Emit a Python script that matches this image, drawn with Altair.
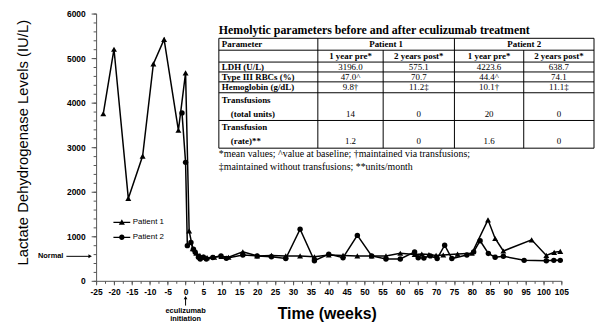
import altair as alt
import pandas as pd

# ---------------- data ----------------
series_names = ["Patient 1", "Patient 2"]

p1_weeks = [-23, -20, -16, -12, -9, -6, -2, 0, 1, 2, 3, 4, 5, 6, 8, 10, 12, 16, 20, 24, 28,
            32, 36, 40, 44, 48, 52, 56, 60, 64, 66, 68, 70, 72, 76, 80, 84.5, 86.5, 88.8,
            96.7, 100.8, 103, 104.7]
p1_ldh = [3750, 5200, 1850, 2800, 4870, 5420, 3380, 4670, 1120, 720, 620, 570, 540, 520,
          530, 550, 530, 650, 560, 570, 560, 560, 540, 580, 570, 560, 560, 560, 620, 590,
          600, 590, 570, 580, 600, 620, 1370, 950, 670, 920, 570, 640, 660]

p2_weeks = [-1, 0, 0.5, 1.5, 2.2, 2.7, 3.6, 4.1, 5, 5.8, 7.6, 9.9, 11.4, 16, 20, 24, 28,
            32, 36, 40, 44, 48, 52, 56, 60, 64, 65, 66.6, 68.4, 70.3, 72.4, 74.4, 78.6,
            80.5, 82.3, 84.6, 86.5, 88.8, 94.6, 100.8, 102.9, 104.7]
p2_ldh = [3770, 2660, 790, 860, 710, 640, 530, 490, 530, 490, 525, 560, 505, 580, 560, 540,
          500, 1160, 450, 600, 520, 1020, 560, 490, 490, 650, 520, 510, 560, 500, 800, 500,
          580, 650, 900, 615, 530, 550, 460, 450, 460, 460]

normal_ldh = 550
x_major = list(range(-25, 106, 5))
x_minor = [-25 + 2.5 * i for i in range(53)]
y_major = list(range(0, 6001, 1000))
y_minor = list(range(0, 6001, 200))

table_title = "Hemolytic parameters before and after eculizumab treatment"
col_headers = ["Parameter", "Patient 1", "Patient 2"]
sub_headers = ["1 year pre*", "2 years post*", "1 year pre*", "2 years post*"]
row_labels = [["LDH (U/L)"], ["Type III RBCs (%)"], ["Hemoglobin (g/dL)"],
              ["Transfusions", "(total units)"], ["Transfusion", "(rate)**"]]
p1_pre = ["3196.0", "47.0^", "9.8\u2020", "14", "1.2"]
p1_post = ["575.1", "70.7", "11.2\u2021", "0", "0"]
p2_pre = ["4223.6", "44.4^", "10.1\u2020", "20", "1.6"]
p2_post = ["638.7", "74.1", "11.1\u2021", "0", "0"]
footnotes = ["*mean values; ^value at baseline; \u2020maintained via transfusions;",
             "\u2021maintained without transfusions; **units/month"]

# ---------------- layout / style ----------------
SANS = "Liberation Sans"
SERIF = "Liberation Serif"
W, H = 470, 270
AX = "#555"

df = pd.DataFrame({
    "week": p1_weeks + p2_weeks,
    "ldh": p1_ldh + p2_ldh,
    "series": [series_names[0]] * len(p1_weeks) + [series_names[1]] * len(p2_weeks),
})

xs = alt.Scale(domain=[-25, 105], nice=False, zero=False)
ys = alt.Scale(domain=[0, 6000], nice=False)

x_main = alt.X("week:Q", scale=xs,
               axis=alt.Axis(values=x_major, labelExpr="'' + datum.value",
                             tickSize=4, labelOverlap=False, labelFlush=False, grid=False,
                             labelFont=SANS, labelFontSize=8.5, labelFontWeight="bold",
                             labelColor="black", labelPadding=3,
                             domainColor=AX, tickColor=AX,
                             title="Time (weeks)", titleFont=SANS, titleFontSize=16,
                             titleFontWeight="bold", titleColor="black",
                             titleX=233, titleY=25, titleBaseline="top"))
y_main = alt.Y("ldh:Q", scale=ys,
               axis=alt.Axis(values=y_major, labelExpr="'' + datum.value",
                             tickSize=5, labelOverlap=False, labelFlush=False, grid=False,
                             labelFont=SANS, labelFontSize=8.5, labelFontWeight="bold",
                             labelColor="black", labelPadding=6,
                             domainColor=AX, tickColor=AX,
                             title="Lactate Dehydrogenase Levels (IU/L)", titleFont=SANS,
                             titleFontSize=15, titleFontWeight="normal", titleColor="black",
                             titleX=-66, titleY=130))
x_min = alt.X("week:Q", scale=xs,
              axis=alt.Axis(values=x_minor, labels=False, domain=False, grid=False,
                            tickSize=2.5, tickColor=AX, title=None, orient="bottom"))
y_min = alt.Y("ldh:Q", scale=ys,
              axis=alt.Axis(values=y_minor, labels=False, domain=False, grid=False,
                            tickSize=3, tickColor=AX, title=None, orient="left"))
x_plain = alt.X("week:Q", scale=xs, axis=None)
y_plain = alt.Y("ldh:Q", scale=ys, axis=None)

base = alt.Chart(df)
lines = base.mark_line(color="black", strokeWidth=1.5).encode(x=x_main, y=y_main, detail="series:N")
minor_axes = base.mark_point(opacity=0).encode(x=x_min, y=y_min)
p1_pts = base.transform_filter(alt.datum.series == series_names[0]).mark_point(
    shape="triangle-up", filled=True, color="black", opacity=1, size=36).encode(x=x_plain, y=y_plain)
p2_pts = base.transform_filter(alt.datum.series == series_names[1]).mark_point(
    shape="circle", filled=True, color="black", opacity=1, size=30).encode(x=x_plain, y=y_plain)

# legend symbols: a filled thin bar (the line) plus the marker
tri_path = "M-1.7,-0.13H1.7V0.13H-1.7ZM0,-0.62L0.62,0.45L-0.62,0.45Z"
circ_path = "M-1.7,-0.13H1.7V0.13H-1.7ZM0.55,0A0.55,0.55,0,1,1,-0.55,0A0.55,0.55,0,1,1,0.55,0Z"
legend_layer = base.mark_point(filled=True, color="black", opacity=0, size=100).encode(
    x=x_plain, y=y_plain,
    shape=alt.Shape("series:N", scale=alt.Scale(domain=series_names, range=[tri_path, circ_path]),
                    legend=alt.Legend(title=None, orient="none", legendX=20, legendY=205,
                                      symbolSize=100, symbolFillColor="black",
                                      symbolOpacity=1, labelFont=SANS, labelFontSize=8,
                                      labelColor="black", labelOffset=5, rowPadding=3,
                                      padding=0)))

normal_df = pd.DataFrame({"ldh": [normal_ldh], "label": ["Normal"]})
nbase = alt.Chart(normal_df)
normal_text = nbase.mark_text(align="right", baseline="middle", font=SANS, fontWeight="bold",
                              fontSize=7.5, color="black").encode(
    x=alt.value(-33), y=y_plain, text="label:N")
normal_rule = nbase.mark_rule(color="black", strokeWidth=1).encode(
    x=alt.value(-30), x2=alt.value(-7), y=y_plain)
normal_head = nbase.mark_point(shape="triangle-right", filled=True, color="black", opacity=1,
                               size=16).encode(x=alt.value(-6), y=y_plain)

ecu_df = pd.DataFrame({"week": [0], "l1": ["eculizumab"], "l2": ["initiation"]})
ebase = alt.Chart(ecu_df)
ecu_head = ebase.mark_point(shape="triangle-up", filled=True, color="black", opacity=1,
                            size=14).encode(x=x_plain, y=alt.value(H + 17))
ecu_rule = ebase.mark_rule(color="black", strokeWidth=1).encode(
    x=x_plain, y=alt.value(H + 18), y2=alt.value(H + 25))
ecu_t1 = ebase.mark_text(font=SANS, fontWeight="bold", fontSize=7.5, color="black",
                         baseline="middle").encode(x=x_plain, y=alt.value(H + 30), text="l1:N")
ecu_t2 = ebase.mark_text(font=SANS, fontWeight="bold", fontSize=7.5, color="black",
                         baseline="middle").encode(x=x_plain, y=alt.value(H + 39), text="l2:N")

series = alt.layer(lines, minor_axes, p1_pts, p2_pts, legend_layer, normal_rule, normal_head,
                   normal_text, ecu_rule, ecu_head, ecu_t1, ecu_t2).resolve_axis(
    x="independent", y="independent")

# ---------------- table ----------------
col_edges = [0, 100, 166, 238, 308, 379]
row_edges = [0, 12, 24, 34, 44, 55, 83, 111]
tx = alt.Scale(domain=[0, 379], range=[124, 503], nice=False, zero=False)
ty = alt.Scale(domain=[0, 111], range=[25, 136], nice=False, zero=False)

segs = []
for r in row_edges:
    segs.append({"x": col_edges[0], "x2": col_edges[-1], "y": r, "y2": r})
for i, c in enumerate(col_edges):
    top = row_edges[1] if i in (2, 4) else row_edges[0]
    segs.append({"x": c, "x2": c, "y": top, "y2": row_edges[-1]})
seg_df = pd.DataFrame(segs)


def ctr(a, b):
    return (a + b) / 2


bold_center, bold_left, normal_center, normal_left = [], [], [], []
bold_left.append({"t": col_headers[0], "x": col_edges[0] + 3, "y": ctr(row_edges[0], row_edges[1])})
bold_center.append({"t": col_headers[1], "x": ctr(col_edges[1], col_edges[3]), "y": ctr(row_edges[0], row_edges[1])})
bold_center.append({"t": col_headers[2], "x": ctr(col_edges[3], col_edges[5]), "y": ctr(row_edges[0], row_edges[1])})
for j, s in enumerate(sub_headers):
    bold_center.append({"t": s, "x": ctr(col_edges[j + 1], col_edges[j + 2]), "y": ctr(row_edges[1], row_edges[2])})
cols_vals = [p1_pre, p1_post, p2_pre, p2_post]
for i, lab in enumerate(row_labels):
    r0, r1 = row_edges[i + 2], row_edges[i + 3]
    if len(lab) == 1:
        bold_left.append({"t": lab[0], "x": col_edges[0] + 3, "y": ctr(r0, r1)})
        vy = ctr(r0, r1)
    else:
        bold_left.append({"t": lab[0], "x": col_edges[0] + 3, "y": r0 + 7})
        bold_left.append({"t": lab[1], "x": col_edges[0] + 12, "y": r1 - 7})
        vy = r1 - 7
    for j, cv in enumerate(cols_vals):
        normal_center.append({"t": cv[i], "x": ctr(col_edges[j + 1], col_edges[j + 2]), "y": vy})
for k, f in enumerate(footnotes):
    normal_left.append({"t": f, "x": col_edges[0], "y": row_edges[-1] + 6 + 13 * k})


def tlayer(rows, align, weight, size):
    return alt.Chart(pd.DataFrame(rows)).mark_text(
        align=align, baseline="middle", font=SERIF, fontWeight=weight, fontSize=size,
        color="black").encode(
        x=alt.X("x:Q", scale=tx, axis=None), y=alt.Y("y:Q", scale=ty, axis=None), text="t:N")


table_lines = alt.Chart(seg_df).mark_rule(color="black", strokeWidth=1).encode(
    x=alt.X("x:Q", scale=tx, axis=None), x2="x2:Q",
    y=alt.Y("y:Q", scale=ty, axis=None), y2="y2:Q")
title_layer = tlayer([{"t": table_title, "x": col_edges[0], "y": -8}], "left", "bold", 12)

table = alt.layer(table_lines, title_layer,
                  tlayer(bold_center, "center", "bold", 9),
                  tlayer(bold_left, "left", "bold", 9),
                  tlayer(normal_center, "center", "normal", 9),
                  tlayer(normal_left, "left", "normal", 10))

chart = alt.layer(series, table).resolve_scale(x="independent", y="independent").properties(
    width=W, height=H,
    autosize=alt.AutoSizeParams(type="none"),
    padding={"left": 89, "top": 4, "right": 34, "bottom": 43},
).configure_view(stroke=None)

chart.save("out.html", embed_options={"renderer": "svg", "actions": False})
